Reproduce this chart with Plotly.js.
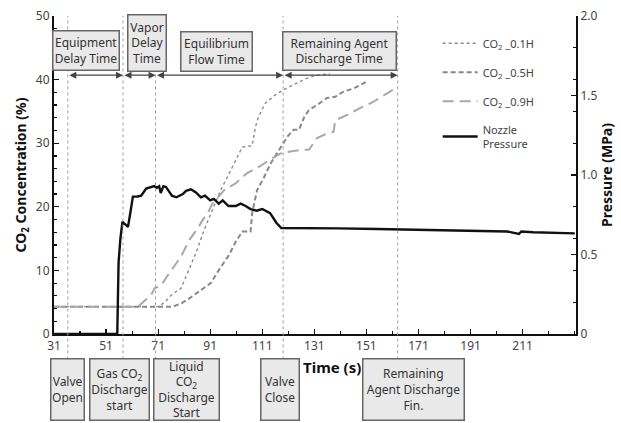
<!DOCTYPE html>
<html>
<head>
<meta charset="utf-8">
<script src="https://cdn.plot.ly/plotly-3.0.1.min.js"></script>
<style>html,body{margin:0;padding:0;background:#fff;}#chart{width:621px;height:423px;}</style>
</head>
<body>
<div id="chart"></div>
<script>
// ---- data ----
const seriesNames = ["CO<sub>2</sub> _0.1H", "CO<sub>2</sub> _0.5H", "CO<sub>2</sub> _0.9H", "Nozzle<br>Pressure"];

const t01 = [31, 71.4, 74, 76, 79.8, 82.3, 85.5, 88.7, 92.4, 95, 98, 101, 103.3, 107.1, 108.4, 109.6, 112.2, 116, 119.2, 123, 128.1, 131.9, 137];
const c01 = [4.3, 4.3, 5.2, 6.1, 7.2, 9.6, 12.7, 16.4, 20, 22.6, 25, 27.5, 29.4, 29.6, 32.6, 34.2, 36.3, 37.6, 38.4, 39.2, 40.2, 40.7, 40.9];

const t05 = [31, 76.6, 79.8, 83, 87.4, 91.2, 94.4, 98.2, 100.8, 103.3, 106.5, 107.1, 109, 111.5, 114.2, 118, 120.6, 123, 125.1, 127.2, 128.9, 132, 135.8, 139, 142.2, 146, 151.2];
const c05 = [4.3, 4.3, 4.8, 5.6, 6.9, 8.0, 10.1, 12.4, 14.5, 16.1, 16.1, 19, 22.6, 24.5, 26.8, 29.2, 31, 32.1, 32.1, 34.2, 35.2, 36, 37.1, 37.3, 38.1, 38.6, 39.7];

const t09 = [31, 63.3, 66, 68.3, 69.6, 72.1, 74, 77.2, 79.8, 83, 86.2, 88.1, 90, 91.9, 96.3, 100.8, 105.2, 109.7, 114.2, 118, 121.8, 125.1, 129, 132, 135.8, 138.4, 139, 143.4, 148.5, 153.6, 161.2];
const c09 = [4.3, 4.3, 5.3, 6.1, 7.2, 7.6, 8.8, 10.6, 12.2, 14.8, 16.6, 17.9, 19, 20.5, 22.6, 23.7, 25.3, 26.3, 27.4, 28.4, 28.7, 28.9, 29.0, 30.8, 31.5, 31.8, 33.6, 34.4, 35.5, 36.5, 38.4];

const tP = [31, 55.3, 55.8, 56.5, 57.3, 58.2, 59.4, 60.2, 61.3, 63, 64.5, 66.4, 68, 69.5, 70.5, 71.4, 72, 73, 74, 75, 76.3, 78, 79, 80.5, 81.7, 83.6, 85.5, 87.4, 89, 91, 92.4, 94.3, 95.8, 98, 100.8, 102.7, 104.6, 106.5, 108.8, 111, 114, 116.4, 118.3, 120, 130, 140, 155, 171, 185, 199, 205, 209.6, 210.5, 215, 225, 231];
const pP = [0, 0, 0.45, 0.6, 0.706, 0.69, 0.673, 0.75, 0.864, 0.865, 0.87, 0.915, 0.925, 0.93, 0.92, 0.93, 0.887, 0.93, 0.925, 0.9, 0.87, 0.86, 0.87, 0.88, 0.9, 0.91, 0.89, 0.86, 0.87, 0.84, 0.85, 0.82, 0.84, 0.805, 0.805, 0.82, 0.805, 0.786, 0.775, 0.786, 0.76, 0.70, 0.667, 0.667, 0.667, 0.664, 0.66, 0.656, 0.652, 0.648, 0.645, 0.63, 0.645, 0.64, 0.636, 0.633];

const xTickVals = [31, 51, 71, 91, 111, 131, 151, 171, 191, 211];
const yLeftTickVals = [0, 10, 20, 30, 40, 50];
const yRightTickVals = [0, 0.5, 1.0, 1.5, 2.0];
const yRightTickText = ["0", "0.5", "1.0", "1.5", "2.0"];

// event times (s)
const eventTimes = [36.3, 57.5, 70, 119, 163];
const bottomLabels = ["Valve<br>Open", "Gas CO<sub>2</sub><br>Discharge<br>start", "Liquid<br>CO<sub>2</sub><br>Discharge<br>Start", "Valve<br>Close", "Remaining<br>Agent Discharge<br>Fin."];
const bottomCenters = [36.3, 56.1, 81.7, 117.8, 169.1];
const bottomWidths = [30, 56, 62, 35, 98];
const topLabels = ["Equipment<br>Delay Time", "Vapor<br>Delay<br>Time", "Equilibrium<br>Flow Time", "Remaining Agent<br>Discharge Time"];
const topCenters = [43.3, 66.6, 93.5, 140.8];
const topWidths = [63, 35, 68, 110];
const arrowLevel = 40.7;

// ---- traces ----
const font = "Noto Sans, Open Sans, sans-serif";
const traces = [
  {x: t01, y: c01, name: seriesNames[0], mode: "lines", legendgroup: "a",
   line: {color: "#8c8c8c", width: 1.4, dash: "dot"}},
  {x: t05, y: c05, name: seriesNames[1], mode: "lines", legendgroup: "b",
   line: {color: "#888888", width: 2, dash: "5px,3px"}},
  {x: t09, y: c09, name: seriesNames[2], mode: "lines", legendgroup: "c",
   line: {color: "#a8a8a8", width: 2, dash: "11px,6px"}},
  {x: tP, y: pP, name: seriesNames[3], mode: "lines", yaxis: "y2", legendgroup: "d",
   line: {color: "#111111", width: 2.4}}
];

const shapes = eventTimes.map(t => ({
  type: "line", xref: "x", yref: "paper", x0: t, x1: t, y0: -0.08, y1: 1,
  line: {color: "#a0a0a0", width: 1, dash: "dot"}
}));

const annotations = [];
bottomLabels.forEach((txt, i) => annotations.push({
  x: bottomCenters[i], xref: "x", y: -0.176, yref: "paper", xanchor: "center", yanchor: "middle",
  text: txt, showarrow: false,
  font: {family: font, size: 12, color: "#333"}, bgcolor: "#e9e9e9", bordercolor: "#666",
  borderwidth: 1.5, borderpad: 1, width: bottomWidths[i], height: 58, valign: "middle"
}));
const topY = [0.891, 0.916, 0.888, 0.891];
const topH = [36, 53, 36, 35];
topLabels.forEach((txt, i) => annotations.push({
  x: topCenters[i], xref: "x", y: topY[i], yref: "paper", xanchor: "center", yanchor: "middle",
  text: txt, showarrow: false,
  font: {family: font, size: 12, color: "#333"}, bgcolor: "#e9e9e9", bordercolor: "#666",
  borderwidth: 1.5, borderpad: 1, width: topWidths[i], height: topH[i], valign: "middle"
}));
for (let i = 0; i < eventTimes.length - 1; i++) {
  annotations.push({
    x: eventTimes[i + 1], y: arrowLevel, xref: "x", yref: "y",
    ax: eventTimes[i], ay: arrowLevel, axref: "x", ayref: "y",
    text: "", showarrow: true, arrowhead: 2, startarrowhead: 2, arrowside: "end+start",
    arrowsize: 1, startarrowsize: 1, arrowwidth: 1.4, arrowcolor: "#444"
  });
}
annotations.push({
  x: 0.532, xref: "paper", y: -0.104, yref: "paper", xanchor: "center", yanchor: "middle",
  text: "<b>Time (s)</b>", showarrow: false,
  font: {family: font, size: 15, color: "#111"}
});

const layout = {
  width: 621, height: 423,
  margin: {l: 54, r: 45, t: 16, b: 89},
  paper_bgcolor: "#fff", plot_bgcolor: "#fff",
  font: {family: font, size: 12, color: "#444"},
  showlegend: true,
  legend: {x: 0.735, y: 0.96, xanchor: "left", yanchor: "top", bgcolor: "rgba(0,0,0,0)",
           font: {family: font, size: 11, color: "#444"}, tracegroupgap: 10, itemwidth: 35},
  xaxis: {range: [31, 231.5], tickvals: xTickVals, ticks: "inside", ticklen: 5, tickwidth: 1.2,
          tickcolor: "#111", showline: true, linecolor: "#111", linewidth: 2, showgrid: false,
          zeroline: false, tickfont: {family: font, size: 12, color: "#444"},
          minor: {dtick: 10, tick0: 31, ticks: "inside", ticklen: 3, tickcolor: "#111", showgrid: false}},
  yaxis: {range: [0, 50], tickvals: yLeftTickVals, ticks: "inside", ticklen: 5, tickwidth: 1.2,
          tickcolor: "#111", showline: true, linecolor: "#111", linewidth: 2, showgrid: false,
          zeroline: false, tickfont: {family: font, size: 12, color: "#444"},
          title: {text: "<b>CO<sub>2</sub> Concentration (%)</b>", font: {family: font, size: 14, color: "#111"}, standoff: 6},
          minor: {dtick: 2, ticks: "inside", ticklen: 3, tickcolor: "#111", showgrid: false}},
  yaxis2: {range: [0, 2.0], overlaying: "y", side: "right", tickvals: yRightTickVals, ticktext: yRightTickText,
           ticks: "inside", ticklen: 5, tickwidth: 1.2, tickcolor: "#111", showline: true,
           linecolor: "#111", linewidth: 2, showgrid: false, zeroline: false,
           tickfont: {family: font, size: 12, color: "#444"},
           title: {text: "<b>Pressure (MPa)</b>", font: {family: font, size: 14, color: "#111"}, standoff: 6},
           minor: {dtick: 0.2, ticks: "inside", ticklen: 3, tickcolor: "#111", showgrid: false}},
  shapes: shapes,
  annotations: annotations
};

Plotly.newPlot("chart", traces, layout, {displayModeBar: false, staticPlot: true});
</script>
</body>
</html>
